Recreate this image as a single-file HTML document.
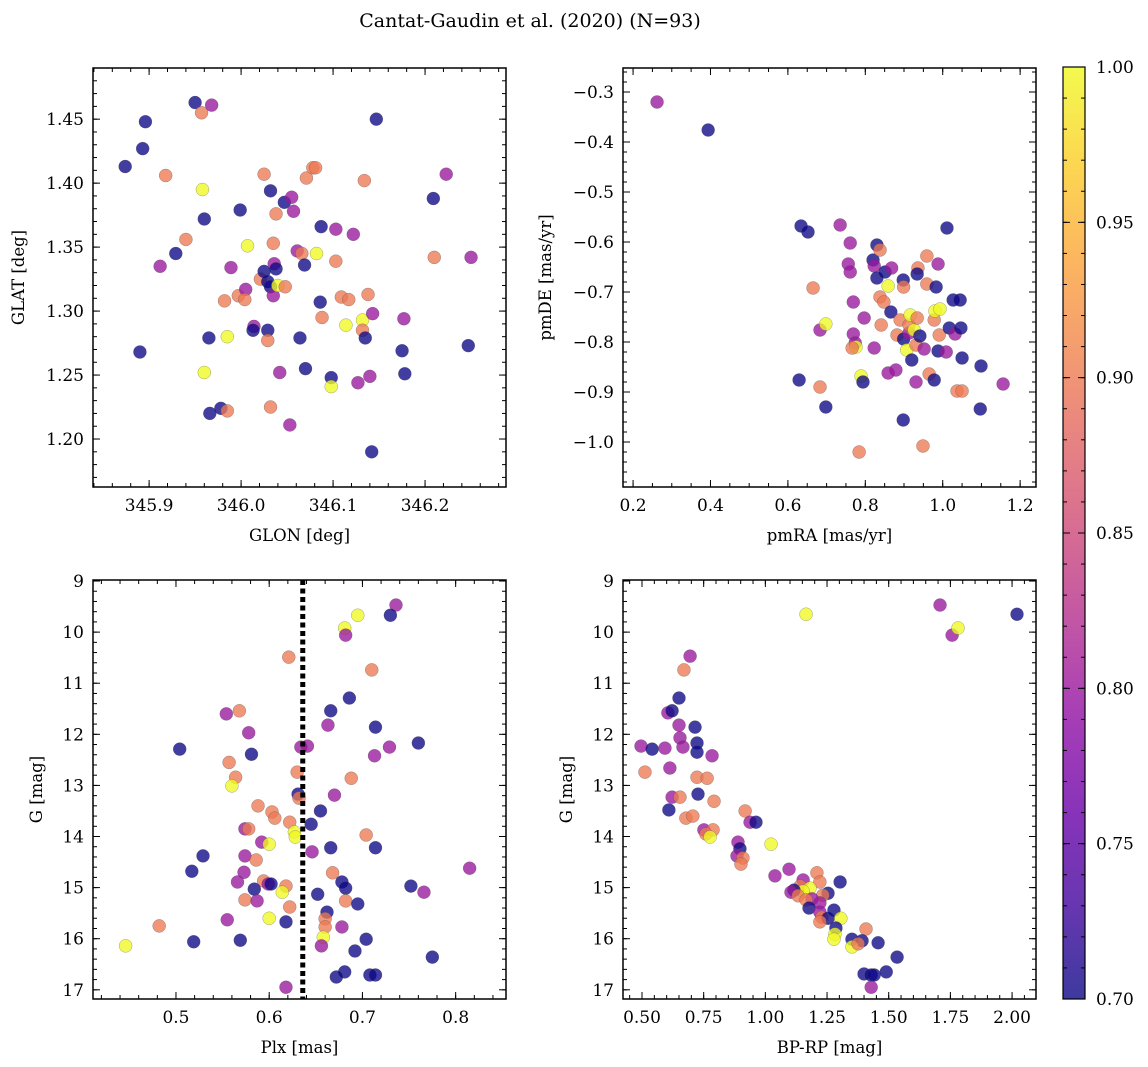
<!DOCTYPE html>
<html><head><meta charset="utf-8"><style>
body{margin:0;background:#fff}
svg{display:block;font-family:"DejaVu Serif","Liberation Serif",serif}
</style></head><body>
<svg id="fig" width="1148" height="1067" viewBox="0 0 1148 1067" xmlns="http://www.w3.org/2000/svg">
<defs>
<linearGradient id="plasma" x1="0" y1="1" x2="0" y2="0">
<stop offset="0" stop-color="#0d0887"/><stop offset="0.1" stop-color="#41049d"/><stop offset="0.2" stop-color="#6a00a8"/><stop offset="0.3" stop-color="#8f0da4"/><stop offset="0.4" stop-color="#b12a90"/><stop offset="0.5" stop-color="#cc4778"/><stop offset="0.6" stop-color="#e16462"/><stop offset="0.7" stop-color="#f2844b"/><stop offset="0.8" stop-color="#fca636"/><stop offset="0.9" stop-color="#fcce25"/><stop offset="1" stop-color="#f0f921"/>
</linearGradient>
</defs>
<text x="530" y="27" font-size="19" text-anchor="middle">Cantat-Gaudin et al. (2020) (N=93)</text>
</svg>
<script>
const p1Lon=[345.874,345.896,345.893,345.950,345.957,345.968,345.918,345.912,345.929,345.940,345.958,345.960,345.890,345.965,345.985,345.960,345.966,345.978,345.985,345.999,346.007,345.989,345.982,345.997,346.005,346.004,346.014,346.013,346.025,346.032,346.047,346.021,346.025,346.029,346.035,346.038,346.055,346.057,346.036,346.038,346.032,346.035,346.040,346.048,346.029,346.029,346.042,346.032,346.053,346.061,346.066,346.069,346.064,346.070,346.071,346.078,346.081,346.082,346.087,346.103,346.103,346.086,346.088,346.098,346.098,346.109,346.114,346.117,346.122,346.134,346.132,346.132,346.135,346.138,346.143,346.127,346.140,346.147,346.142,346.177,346.175,346.178,346.209,346.210,346.223,346.250,346.247];
const p1Lat=[1.413,1.448,1.427,1.463,1.455,1.461,1.406,1.335,1.345,1.356,1.395,1.372,1.268,1.279,1.280,1.252,1.220,1.224,1.222,1.379,1.351,1.334,1.308,1.312,1.317,1.309,1.288,1.285,1.407,1.394,1.385,1.325,1.331,1.323,1.353,1.376,1.389,1.378,1.337,1.333,1.319,1.312,1.320,1.319,1.285,1.277,1.252,1.225,1.211,1.347,1.345,1.336,1.279,1.255,1.404,1.412,1.412,1.345,1.366,1.364,1.339,1.307,1.295,1.248,1.241,1.311,1.289,1.309,1.360,1.402,1.293,1.285,1.279,1.313,1.298,1.244,1.249,1.450,1.190,1.294,1.269,1.251,1.388,1.342,1.407,1.342,1.273];
const p1Prob=[0.70,0.70,0.70,0.70,0.90,0.80,0.90,0.80,0.70,0.90,1.00,0.70,0.70,0.70,1.00,1.00,0.70,0.70,0.90,0.70,1.00,0.80,0.90,0.90,0.80,0.90,0.80,0.70,0.90,0.70,0.70,0.90,0.70,0.70,0.90,0.90,0.80,0.80,0.80,0.70,0.70,0.80,1.00,0.90,0.70,0.90,0.80,0.90,0.80,0.80,0.90,0.70,0.70,0.70,0.90,0.90,0.90,1.00,0.70,0.80,0.90,0.70,0.90,0.70,1.00,0.90,1.00,0.90,0.80,0.90,1.00,0.90,0.70,0.90,0.80,0.80,0.80,0.70,0.70,0.80,0.70,0.70,0.70,0.90,0.80,0.80,0.70];

const p2RA=[0.262,0.394,0.634,0.652,0.735,0.761,0.756,0.665,0.683,0.698,0.683,0.629,0.698,0.761,0.769,0.769,0.774,0.776,0.766,0.789,0.794,0.797,0.784,0.823,0.820,0.830,0.838,0.823,0.830,0.838,0.848,0.859,0.851,0.868,0.841,0.866,0.859,0.879,0.882,0.890,0.898,0.899,0.899,0.898,0.913,0.913,0.907,0.920,0.916,0.926,0.931,0.936,0.934,0.934,0.931,0.952,0.941,0.959,0.959,0.965,0.949,0.978,0.980,0.983,0.978,0.988,0.991,0.988,0.993,1.011,1.017,1.009,1.027,1.032,1.037,1.050,1.045,1.047,1.050,1.099,1.097,1.156];
const p2DE=[-0.320,-0.376,-0.568,-0.580,-0.566,-0.602,-0.644,-0.692,-0.776,-0.764,-0.890,-0.876,-0.930,-0.660,-0.720,-0.784,-0.802,-0.810,-0.812,-0.868,-0.880,-0.752,-1.020,-0.812,-0.636,-0.606,-0.616,-0.648,-0.672,-0.710,-0.720,-0.688,-0.660,-0.652,-0.766,-0.740,-0.862,-0.856,-0.786,-0.756,-0.676,-0.690,-0.794,-0.956,-0.782,-0.766,-0.816,-0.836,-0.746,-0.776,-0.806,-0.652,-0.664,-0.752,-0.880,-0.814,-0.788,-0.628,-0.684,-0.864,-1.008,-0.756,-0.738,-0.690,-0.876,-0.644,-0.786,-0.818,-0.734,-0.572,-0.772,-0.820,-0.716,-0.784,-0.898,-0.898,-0.716,-0.772,-0.832,-0.848,-0.934,-0.884];
const p2Prob=[0.80,0.70,0.70,0.70,0.80,0.80,0.80,0.90,0.80,1.00,0.90,0.70,0.70,0.80,0.80,0.80,0.80,1.00,0.90,1.00,0.70,0.80,0.90,0.80,0.70,0.70,0.90,0.80,0.70,0.90,0.90,1.00,0.70,0.80,0.90,0.70,0.80,0.80,0.90,0.90,0.70,0.90,0.70,0.70,0.80,0.90,1.00,0.70,1.00,1.00,0.90,0.90,0.70,0.90,0.80,0.80,0.70,0.90,0.90,0.90,0.90,0.90,1.00,0.70,0.70,0.80,0.90,0.70,1.00,0.70,0.70,0.80,0.70,0.80,0.90,0.90,0.70,0.70,0.70,0.70,0.70,0.80];

const p3Plx=[0.736,0.730,0.695,0.681,0.682,0.710,0.621,0.686,0.666,0.663,0.714,0.568,0.554,0.578,0.581,0.634,0.641,0.504,0.713,0.729,0.760,0.557,0.564,0.630,0.688,0.560,0.631,0.670,0.632,0.588,0.603,0.655,0.606,0.645,0.574,0.578,0.622,0.627,0.628,0.704,0.592,0.600,0.666,0.714,0.529,0.646,0.574,0.586,0.517,0.573,0.668,0.815,0.566,0.594,0.599,0.602,0.678,0.682,0.752,0.766,0.618,0.614,0.584,0.652,0.682,0.574,0.587,0.695,0.622,0.662,0.600,0.555,0.660,0.618,0.660,0.678,0.482,0.658,0.704,0.569,0.519,0.656,0.446,0.692,0.775,0.681,0.672,0.708,0.714,0.618];
const p3G=[9.47,9.67,9.67,9.92,10.06,10.74,10.49,11.29,11.54,11.82,11.86,11.54,11.60,11.97,12.39,12.25,12.23,12.29,12.42,12.25,12.17,12.55,12.84,12.74,12.86,13.01,13.17,13.19,13.25,13.40,13.52,13.50,13.64,13.76,13.85,13.85,13.72,13.91,14.01,13.97,14.11,14.15,14.22,14.22,14.38,14.30,14.38,14.46,14.68,14.70,14.71,14.62,14.89,14.87,14.93,14.93,14.89,15.01,14.97,15.09,14.97,15.09,15.03,15.13,15.26,15.24,15.26,15.32,15.38,15.48,15.60,15.63,15.61,15.67,15.77,15.77,15.75,15.97,16.01,16.03,16.06,16.14,16.14,16.24,16.36,16.65,16.75,16.71,16.71,16.95];
const p3Prob=[0.80,0.70,1.00,1.00,0.80,0.90,0.90,0.70,0.70,0.80,0.70,0.90,0.80,0.80,0.70,0.80,0.80,0.70,0.80,0.80,0.70,0.90,0.90,0.90,0.90,1.00,0.70,0.80,0.90,0.90,0.90,0.70,0.90,0.70,0.80,0.90,0.90,1.00,1.00,0.90,0.80,1.00,0.70,0.70,0.70,0.80,0.80,0.90,0.70,0.80,0.90,0.80,0.80,0.90,0.80,0.70,0.70,0.70,0.70,0.80,0.90,1.00,0.70,0.70,0.90,0.90,0.80,0.70,0.90,0.70,1.00,0.80,0.90,0.70,0.90,0.80,0.90,1.00,0.70,0.70,0.70,0.80,1.00,0.70,0.70,0.70,0.70,0.70,0.70,0.80];

const p4Col=[1.165,1.708,2.020,1.757,1.781,0.695,0.670,0.650,0.605,0.622,0.650,0.715,0.654,0.723,0.496,0.541,0.593,0.666,0.723,0.784,0.512,0.613,0.723,0.764,0.727,0.622,0.654,0.792,0.609,0.918,0.678,0.706,0.938,0.962,0.751,0.788,0.759,0.776,0.889,1.023,0.897,0.885,0.909,0.901,1.096,1.039,1.209,1.303,1.153,1.221,1.141,1.181,1.153,1.116,1.104,1.133,1.254,1.233,1.189,1.165,1.221,1.177,1.278,1.221,1.229,1.254,1.306,1.221,1.286,1.408,1.282,1.278,1.351,1.392,1.457,1.351,1.376,1.534,1.400,1.429,1.441,1.490,1.429];
const p4G=[9.65,9.47,9.65,10.06,9.92,10.47,10.74,11.29,11.58,11.54,11.82,11.86,12.07,12.17,12.23,12.29,12.27,12.25,12.35,12.42,12.74,12.66,12.84,12.86,13.17,13.23,13.23,13.31,13.48,13.50,13.64,13.60,13.72,13.72,13.87,13.87,13.95,14.01,14.11,14.15,14.24,14.38,14.42,14.54,14.64,14.77,14.71,14.89,14.85,14.89,14.97,15.01,15.07,15.05,15.09,15.16,15.11,15.15,15.22,15.24,15.30,15.40,15.44,15.48,15.58,15.60,15.60,15.67,15.79,15.81,15.91,16.01,16.01,16.04,16.08,16.16,16.10,16.36,16.69,16.71,16.71,16.65,16.95];
const p4Prob=[1.00,0.80,0.70,0.80,1.00,0.80,0.90,0.70,0.80,0.70,0.80,0.70,0.80,0.70,0.80,0.70,0.80,0.80,0.70,0.80,0.90,0.80,0.90,0.90,0.70,0.80,0.90,0.90,0.70,0.90,0.90,0.90,0.80,0.70,0.80,0.90,0.90,1.00,0.80,1.00,0.70,0.80,0.90,0.90,0.80,0.80,0.90,0.70,0.80,0.90,0.90,1.00,1.00,0.70,0.80,0.90,0.70,0.90,0.80,0.90,0.80,0.70,0.70,0.80,0.90,0.70,1.00,0.90,0.70,0.90,1.00,1.00,0.70,0.70,0.70,1.00,0.90,0.70,0.70,0.70,0.70,0.70,0.80];

const plxCut=0.636;
const cbTicks=[0.70,0.75,0.80,0.85,0.90,0.95,1.00];

const NS='http://www.w3.org/2000/svg';
const svg=document.getElementById('fig');
function mk(tag,attrs,parent){const e=document.createElementNS(NS,tag);for(const k in attrs)e.setAttribute(k,attrs[k]);(parent||svg).appendChild(e);return e;}
const stops=[[0,'#0d0887'],[0.1,'#41049d'],[0.2,'#6a00a8'],[0.3,'#8f0da4'],[0.4,'#b12a90'],[0.5,'#cc4778'],[0.6,'#e16462'],[0.7,'#f2844b'],[0.8,'#fca636'],[0.9,'#fcce25'],[1,'#f0f921']];
function hex(h){return [1,3,5].map(i=>parseInt(h.substr(i,2),16));}
function plasma(v){let t=(v-0.7)/0.3;t=Math.max(0,Math.min(1,t));for(let i=0;i<stops.length-1;i++){if(t<=stops[i+1][0]){const f=(t-stops[i][0])/(stops[i+1][0]-stops[i][0]);const a=hex(stops[i][1]),b=hex(stops[i+1][1]);return 'rgb('+a.map((c,j)=>Math.round(c+(b[j]-c)*f)).join(',')+')';}}return stops[10][1];}
function fmtMinus(s){return s.replace('-','\u2212');}
const TFS=17, LFS=16.5;

function panel(o){
  const g=mk('g',{});
  
  
  const W=o.x1-o.x0,H=o.y1-o.y0;
  const sx=v=>o.x0+(v-o.xmin)/(o.xmax-o.xmin)*W;
  const sy=v=>o.y0+(v-o.ytop)/(o.ybot-o.ytop)*H;
  const pts=mk('g',{},g);
  
  
  for(let i=0;i<o.xs.length;i++){
    const c=mk('circle',{cx:sx(o.xs[i]),cy:sy(o.ys[i]),r:6.5,fill:plasma(o.cs[i]),'fill-opacity':0.78,stroke:'#444','stroke-width':0.4,'stroke-opacity':0.6},pts);
    
    
  }
  if(o.extra)o.extra(g,sx,sy);
  const tk=mk('g',{stroke:'#000','stroke-width':1},g);
  const lo=Math.min(o.xmin,o.xmax),hi=Math.max(o.xmin,o.xmax);
  for(let v=Math.ceil(lo/o.xminor-1e-6)*o.xminor;v<=hi+1e-9;v+=o.xminor){const x=sx(v);mk('line',{x1:x,x2:x,y1:o.y1,y2:o.y1-4},tk);mk('line',{x1:x,x2:x,y1:o.y0,y2:o.y0+4},tk);}
  const ylo=Math.min(o.ytop,o.ybot),yhi=Math.max(o.ytop,o.ybot);
  for(let v=Math.ceil(ylo/o.yminor-1e-6)*o.yminor;v<=yhi+1e-9;v+=o.yminor){const y=sy(v);mk('line',{x1:o.x0,x2:o.x0+4,y1:y,y2:y},tk);mk('line',{x1:o.x1,x2:o.x1-4,y1:y,y2:y},tk);}
  o.xticks.forEach(v=>{const x=sx(v);mk('line',{x1:x,x2:x,y1:o.y1,y2:o.y1-7},tk);mk('line',{x1:x,x2:x,y1:o.y0,y2:o.y0+7},tk);
    const t=mk('text',{x:x,y:o.y1+24,'font-size':TFS,'text-anchor':'middle'},g);t.textContent=fmtMinus(v.toFixed(o.xdec));
    });
  o.yticks.forEach(v=>{const y=sy(v);mk('line',{x1:o.x0,x2:o.x0+7,y1:y,y2:y},tk);mk('line',{x1:o.x1,x2:o.x1-7,y1:y,y2:y},tk);
    const t=mk('text',{x:o.x0-9,y:y+6,'font-size':TFS,'text-anchor':'end'},g);t.textContent=fmtMinus(v.toFixed(o.ydec));
    });
  const fr=mk('rect',{x:o.x0,y:o.y0,width:W,height:H,fill:'none',stroke:'#000','stroke-width':1.5},g);
  
  const xl=mk('text',{x:(o.x0+o.x1)/2,y:o.y1+54,'font-size':LFS,'text-anchor':'middle'},g);xl.textContent=o.xlabel;
  
  const cy=(o.y0+o.y1)/2;
  const yl=mk('text',{x:o.ylx,y:cy,'font-size':LFS,'text-anchor':'middle',transform:'rotate(-90 '+o.ylx+' '+cy+')'},g);yl.textContent=o.ylabel;
  
}

panel({name:'panel-glon-glat',x0:93,x1:506,y0:68,y1:487,xmin:345.839,xmax:346.288,ytop:1.490,ybot:1.1625,
  xs:p1Lon,ys:p1Lat,cs:p1Prob,xticks:[345.9,346.0,346.1,346.2],xminor:0.02,xdec:1,yticks:[1.20,1.25,1.30,1.35,1.40,1.45],yminor:0.01,ydec:2,
  xlabel:'GLON [deg]',ylabel:'GLAT [deg]',ylx:24});
panel({name:'panel-proper-motion',x0:623,x1:1036,y0:68,y1:487,xmin:0.174,xmax:1.241,ytop:-0.252,ybot:-1.090,
  xs:p2RA,ys:p2DE,cs:p2Prob,xticks:[0.2,0.4,0.6,0.8,1.0,1.2],xminor:0.05,xdec:1,yticks:[-0.3,-0.4,-0.5,-0.6,-0.7,-0.8,-0.9,-1.0],yminor:0.02,ydec:1,
  xlabel:'pmRA [mas/yr]',ylabel:'pmDE [mas/yr]',ylx:551});
panel({name:'panel-parallax-mag',x0:93,x1:506,y0:580,y1:999,xmin:0.411,xmax:0.854,ytop:8.98,ybot:17.18,
  xs:p3Plx,ys:p3G,cs:p3Prob,xticks:[0.5,0.6,0.7,0.8],xminor:0.02,xdec:1,yticks:[9,10,11,12,13,14,15,16,17],yminor:0.2,ydec:0,
  xlabel:'Plx [mas]',ylabel:'G [mag]',ylx:42,
  extra:(g,sx,sy)=>{const l=mk('line',{x1:sx(plxCut),x2:sx(plxCut),y1:580,y2:999,stroke:'#000','stroke-width':5,'stroke-dasharray':'5,3.5'},g);
    }});
panel({name:'panel-cmd',x0:623,x1:1036,y0:580,y1:999,xmin:0.423,xmax:2.097,ytop:8.98,ybot:17.18,
  xs:p4Col,ys:p4G,cs:p4Prob,xticks:[0.5,0.75,1.0,1.25,1.5,1.75,2.0],xminor:0.05,xdec:2,yticks:[9,10,11,12,13,14,15,16,17],yminor:0.2,ydec:0,
  xlabel:'BP-RP [mag]',ylabel:'G [mag]',ylx:572});

(function(){
  const g=mk('g',{});
  
  
  const x0=1063,x1=1085,y0=67,y1=999;
  mk('rect',{x:x0,y:y0,width:x1-x0,height:y1-y0,fill:'url(#plasma)','fill-opacity':0.8},g);
  mk('rect',{x:x0,y:y0,width:x1-x0,height:y1-y0,fill:'none',stroke:'#000','stroke-width':1.2},g);
  const sy=v=>y1-(v-0.70)/0.30*(y1-y0);
  for(let v=0.70;v<=1.0001;v+=0.01){mk('line',{x1:x1,x2:x1-4,y1:sy(v),y2:sy(v),stroke:'#000','stroke-width':1},g);mk('line',{x1:x0,x2:x0+4,y1:sy(v),y2:sy(v),stroke:'#000','stroke-width':1},g);}
  cbTicks.forEach(v=>{const y=sy(v);mk('line',{x1:x1,x2:x1-7,y1:y,y2:y,stroke:'#000','stroke-width':1},g);mk('line',{x1:x0,x2:x0+7,y1:y,y2:y,stroke:'#000','stroke-width':1},g);
    const t=mk('text',{x:x1+11,y:y+6,'font-size':TFS},g);t.textContent=v.toFixed(2);
    });
})();
</script>
</body></html>
